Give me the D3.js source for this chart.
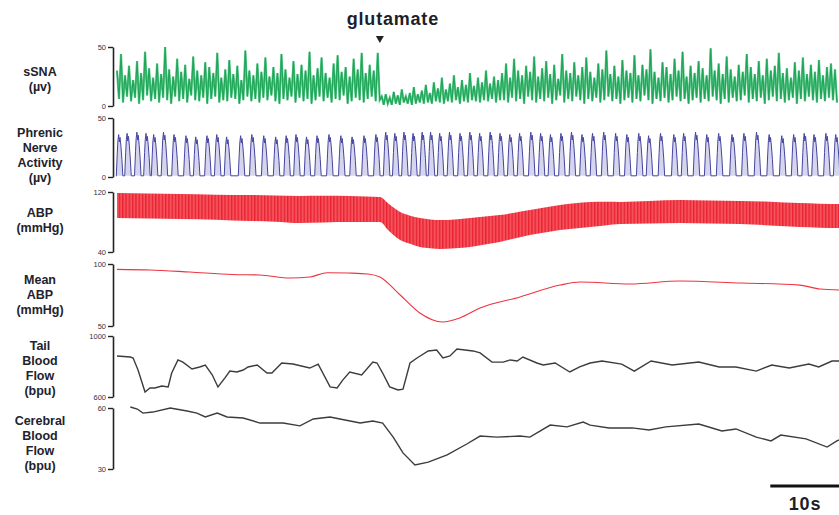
<!DOCTYPE html>
<html>
<head>
<meta charset="utf-8">
<script src="https://cdn.jsdelivr.net/npm/d3@7"></script>
<style>
  body { margin: 0; background: #fff; }
  svg { display: block; font-family: Arial, "Liberation Sans", sans-serif; }
</style>
</head>
<body>
<svg id="chart" width="839" height="515"></svg>
<script>
// recording length (s) and event times
const duration = 103;
const glutamateTime = 37.5;
const scaleBarStart = 93.2;
const scaleBarLength = 10;

// sSNA, min/max per display bin (uV)
const ssnaHigh = [
  30,44,26,34,22,38,28,46,32,24, 36,27,50,31,25,40,29,35,23,42,
  30,26,37,33,28,45,24,31,39,27, 34,22,47,30,26,36,29,41,25,33,
  28,44,31,24,38,27,35,30,46,26, 32,41,28,24,36,43,29,33,25,40,
  31,45,28,35,30,45,
  8,10,7,12,9,14,8,11,16,10,
  13,18,11,20,15,24,14,19,26,16, 22,18,28,17,24,20,30,19,25,22,
  28,36,24,40,30,26,34,29,42,25, 32,38,27,35,23,44,30,28,37,26,
  33,41,29,24,36,31,47,27,34,25, 39,30,28,43,26,35,31,48,29,24,
  37,33,27,40,30,46,25,34,28,38, 32,26,49,30,36,27,42,31,25,35,
  29,44,33,27,38,26,40,30,34,45, 28,32,24,37,30,41,27,35,29,39,
  26,33,36,31
];
const ssnaLow = [
  6,3,8,4,7,2,5,9,4,6, 3,7,5,2,8,4,6,3,9,5,
  4,7,2,6,8,3,5,4,7,6, 2,5,8,4,6,3,7,5,9,4,
  2,6,5,8,3,7,4,6,2,5, 8,4,7,3,6,5,9,2,4,7,
  5,3,6,8,4,5,
  1,2,1,2,1,3,2,1,2,3,
  2,3,2,4,3,2,4,3,5,2, 4,3,5,4,3,5,4,6,3,5,
  5,3,7,4,6,2,8,5,3,6, 4,7,2,5,9,3,6,4,8,5,
  2,6,4,7,3,5,8,4,6,2, 5,7,3,6,4,9,5,2,6,4,
  7,3,5,8,4,6,2,5,7,3, 6,4,8,5,2,6,3,7,4,5,
  9,3,6,4,7,2,5,8,4,6, 3,5,7,2,6,4,8,5,3,6,
  4,7,5,3
];

// phrenic bursts: peak times (s) and amplitudes (uV)
const phrenicTimes = [
  0.4,1.6,3.0,4.3,5.4,6.8,8.3,10.0,11.4,13.0,14.4,15.8,17.8,19.4,21.1,22.8,24.3,25.7,27.2,28.7,
  30.4,32.1,33.7,35.4,37.1,
  38.5,39.8,41.1,42.4,43.7,44.9,46.2,47.6,49.1,50.5,51.9,53.4,54.8,56.2,57.6,59.2,60.6,62.0,63.5,65.0,
  66.5,68.0,69.6,71.3,72.9,74.6,76.0,77.7,79.6,81.0,82.7,84.3,86.0,87.9,89.6,91.4,93.2,95.0,96.7,98.2,
  99.6,101.3,102.7
];
const phrenicAmps = [
  36,37,38,37,36,38,36,35,34,35,36,34,35,36,35,34,35,36,34,35,36,35,34,35,36,
  38,37,38,37,38,38,37,38,37,38,37,38,37,36,37,38,37,36,37,38,
  36,37,38,37,36,37,35,37,36,37,38,36,37,36,37,38,36,35,36,37,36,37,36
];
const phrenicBase = 1;
// one burst, offsets from peak (s) and fraction of amplitude
const burstDt = [-0.5, -0.36, -0.27, -0.16, -0.07, 0.03, 0.16, 0.3, 0.43];
const burstFrac = [0, 0.55, 0.85, 1, 0.82, 0.93, 0.72, 0.4, 0];

// ABP envelope (mmHg)
const abpTime = [0,4.5,9,14,19,22.5,26,29.5,33.2,35.5, 37.5,38.8,40.4,41.8,43.2,44.7,46.1,48.2,50.4,52.5,
  54.6,56.7,58.9,61,63.2,65.3,67.5,69.6,71.8,76, 80.3,84.6,88.9,93.1,97.4,100.2,103];
const abpSys = [118.7,118,117.3,116.5,116,115.3,114.7,115,114.7,114, 113.3,104,93.3,88.5,85.3,83.5,82.7,83.5,85.3,87.5,
  89.3,92.5,96,99.5,102.7,105,106.7,107,106.7,108, 109.3,108.8,108,107,105.3,104.5,104];
const abpDia = [85.3,84.7,84,83,81.3,80.5,78.7,79.5,80,80, 80,68,56,51,46.7,45,44,45,46.7,50,
  53.3,58,62.7,66,69.3,71.5,73.3,75.5,77.3,78, 78.7,78,77.3,75.5,73.3,72.5,72];

// mean ABP (mmHg)
const meanTime = [0,4.7,10.4,16.5,20.4,24.7,27.5,30,33,35.8,37.5,40.4,43.2,46.4,48.9,51.8,57.5,63.2,66.1,73.2,80.3,88.9,97.4,100.3,103];
const meanVal = [95.7,95.2,93.5,91.5,91.1,88.7,89.5,93,92.7,91.9,89.5,75,60.5,53.2,56.5,64.5,73.4,83,85.5,83.9,86.3,84.7,83,79.8,79];

// tail blood flow (bpu)
const tailTime = [0,1.9,2.3,3.0,4.0,4.7,5.4,6.4,7.3,7.8, 8.7,9.4,10.7,11.8,12.6,13.6,14.4,15.4,16.1,17.1,
  18.0,18.7,20.0,21.4,22.1,23.5,25.1,27.5,28.7,30.4, 31.4,32.2,33.2,34.9,36.5,37.1,37.9,38.9,40.1,40.8,
  41.8,42.8,44.4,45.6,46.5,47.5,48.5,50.8,51.8,53.5, 55.1,56.1,57.1,57.9,59.9,60.8,62.5,64.6,66.0,67.5,
  69.2,72.0,73.8,76.2,79.2,83.0,85.9,88.3,91.2,93.4, 95.9,98.7,100.1,102.0,103.0];
const tailVal = [869,862,856,777,633,659,659,672,666,757, 843,829,784,797,810,744,666,725,770,764,
  777,797,810,757,757,823,816,790,816,666, 659,711,764,744,829,823,757,666,646,652,
  823,856,902,908,856,869,915,902,889,829, 829,843,836,862,823,810,823,764,797,823,
  836,816,770,836,810,829,797,797,770,810, 790,816,797,836,836];

// cerebral blood flow (bpu)
const cbfTime = [1.9,2.9,3.7,5.1,7.6,10.0,11.4,12.6,14.3,15.7, 18.0,20.4,23.7,26.1,28.0,30.4,31.8,34.7,36.5,37.9,
  39.4,40.8,42.5,44.4,47.1,49.9,51.8,54.2,57.5,58.9, 61.8,64.2,66.5,67.5,70.2,73.5,75.9,78.3,83.0,86.3,
  88.3,91.2,93.3,94.7,98.3,101.3,102.7,103];
const cbfVal = [60.5,59.5,57.5,58.0,60.0,58.5,57.5,55.6,57.5,55.6, 55.1,52.6,52.6,51.2,54.6,55.6,54.6,52.6,53.6,52.6,
  45.7,37.9,32.0,33.4,36.9,42.3,46.2,45.7,46.2,45.7, 51.6,50.7,53.1,51.6,50.2,50.2,49.2,50.7,52.1,48.7,
  49.7,45.7,43.8,46.7,44.8,40.8,43.8,44.3];

// panel layout
const panels = [
  { key: 'ssna', lines: ['sSNA', '(\u00b5v)'], first: 76, domain: [0, 50], range: [106, 47] },
  { key: 'phrenic', lines: ['Phrenic', 'Nerve', 'Activity', '(\u00b5v)'], first: 137, domain: [0, 50], range: [177, 118] },
  { key: 'abp', lines: ['ABP', '(mmHg)'], first: 217, domain: [40, 120], range: [252, 192] },
  { key: 'mean', lines: ['Mean', 'ABP', '(mmHg)'], first: 284, domain: [50, 100], range: [326, 264] },
  { key: 'tail', lines: ['Tail', 'Blood', 'Flow', '(bpu)'], first: 350, domain: [600, 1000], range: [397, 336] },
  { key: 'cbf', lines: ['Cerebral', 'Blood', 'Flow', '(bpu)'], first: 425, domain: [30, 60], range: [469, 408] }
];

const svg = d3.select('#chart');
const x = d3.scaleLinear().domain([0, duration]).range([117, 839]);
const ys = {};
panels.forEach(p => { ys[p.key] = d3.scaleLinear().domain(p.domain).range(p.range); });

// stripes for the beat-to-beat ABP band
const pat = svg.append('defs').append('pattern')
  .attr('id', 'beats').attr('patternUnits', 'userSpaceOnUse')
  .attr('width', 3.3).attr('height', 10);
pat.append('rect').attr('width', 3.3).attr('height', 10).attr('fill', '#f5505c');
pat.append('rect').attr('width', 1.3).attr('height', 10).attr('fill', '#e8222f');

// labels and axes
panels.forEach(p => {
  const t = svg.append('text')
    .attr('x', 40).attr('y', p.first)
    .attr('text-anchor', 'middle')
    .attr('font-size', 12.5).attr('font-weight', 'bold').attr('fill', '#22222e');
  p.lines.forEach((l, i) => {
    t.append('tspan').attr('x', 40).attr('y', p.first + i * 15).text(l);
  });

  const g = svg.append('g')
    .attr('transform', 'translate(113,0)')
    .call(d3.axisLeft(ys[p.key]).tickValues(p.domain).tickFormat(d3.format('d'))
      .tickSize(5).tickSizeOuter(0).tickPadding(2));
  g.select('.domain').attr('stroke', '#222').attr('stroke-width', 1.6);
  g.selectAll('.tick line').attr('stroke', '#222').attr('stroke-width', 1.4);
  g.selectAll('.tick text').attr('font-size', 7.5).attr('fill', '#334').attr('font-family', 'Arial, "Liberation Sans", sans-serif');
});

// sSNA
const ssnaDt = duration / ssnaHigh.length;
const ssnaPts = [];
ssnaHigh.forEach((h, i) => {
  ssnaPts.push([i * ssnaDt, h]);
  ssnaPts.push([(i + 0.5) * ssnaDt, ssnaLow[i]]);
});
const ssnaLine = d3.line().x(d => x(d[0])).y(d => ys.ssna(d[1]));
svg.append('path')
  .datum(ssnaPts)
  .attr('fill', 'none').attr('stroke', '#5cc88a').attr('stroke-width', 2.2)
  .attr('d', ssnaLine);
svg.append('path')
  .datum(ssnaPts)
  .attr('fill', 'none').attr('stroke', '#1fa558').attr('stroke-width', 1.1)
  .attr('d', ssnaLine);

// phrenic
const phrPts = [[0, phrenicBase]];
phrenicTimes.forEach((tb, i) => {
  burstDt.forEach((o, k) => {
    phrPts.push([tb + o, phrenicBase + burstFrac[k] * (phrenicAmps[i] - phrenicBase)]);
  });
});
phrPts.push([duration, phrenicBase]);
const phrG = svg.append('g');
phrG.append('path')
  .datum(phrPts)
  .attr('fill', '#c3c3e6').attr('opacity', 0.7)
  .attr('d', d3.area().x(d => x(d[0])).y0(ys.phrenic(phrenicBase)).y1(d => ys.phrenic(d[1])));
phrG.append('path')
  .datum(phrPts)
  .attr('fill', 'none').attr('stroke', '#4545a0').attr('stroke-width', 1)
  .attr('d', d3.line().x(d => x(d[0])).y(d => ys.phrenic(d[1])));

// ABP band
svg.append('path')
  .datum(abpTime.map((t, i) => [t, abpSys[i], abpDia[i]]))
  .attr('fill', 'url(#beats)')
  .attr('d', d3.area().curve(d3.curveMonotoneX)
    .x(d => x(d[0])).y0(d => ys.abp(d[2])).y1(d => ys.abp(d[1])));

// mean ABP
svg.append('path')
  .datum(meanTime.map((t, i) => [t, meanVal[i]]))
  .attr('fill', 'none').attr('stroke', '#ec3440').attr('stroke-width', 1.1)
  .attr('d', d3.line().curve(d3.curveMonotoneX).x(d => x(d[0])).y(d => ys.mean(d[1])));

// tail and cerebral blood flow
svg.append('path')
  .datum(tailTime.map((t, i) => [t, tailVal[i]]))
  .attr('fill', 'none').attr('stroke', '#3c3c3c').attr('stroke-width', 1.4)
  .attr('d', d3.line().x(d => x(d[0])).y(d => ys.tail(d[1])));
svg.append('path')
  .datum(cbfTime.map((t, i) => [t, cbfVal[i]]))
  .attr('fill', 'none').attr('stroke', '#3c3c3c').attr('stroke-width', 1.4)
  .attr('d', d3.line().x(d => x(d[0])).y(d => ys.cbf(d[1])));

// glutamate marker
const gx = x(glutamateTime);
svg.append('text')
  .attr('x', gx + 13).attr('y', 25)
  .attr('text-anchor', 'middle')
  .attr('font-size', 18).attr('font-weight', 'bold').attr('letter-spacing', 0.8)
  .attr('fill', '#1e1e28')
  .text('glutamate');
svg.append('path')
  .attr('d', `M${gx - 4},36 L${gx + 4},36 L${gx},43 Z`)
  .attr('fill', '#222');

// scale bar
svg.append('line')
  .attr('x1', x(scaleBarStart)).attr('x2', x(scaleBarStart + scaleBarLength))
  .attr('y1', 486).attr('y2', 486)
  .attr('stroke', '#111').attr('stroke-width', 3);
svg.append('text')
  .attr('x', 805).attr('y', 510)
  .attr('text-anchor', 'middle')
  .attr('font-size', 18).attr('font-weight', 'bold').attr('letter-spacing', 0.8)
  .attr('fill', '#1e1e28')
  .text('10s');
</script>
</body>
</html>
